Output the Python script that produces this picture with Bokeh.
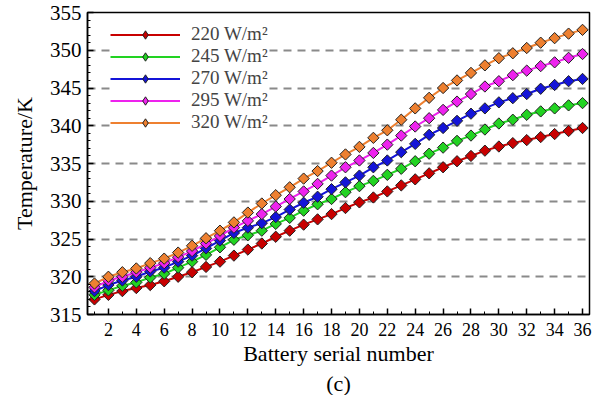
import math
from bokeh.plotting import figure
from bokeh.models import (Legend, LegendItem, SingleIntervalTicker, FixedTicker,
                          Range1d, Title, ColumnDataSource)
from bokeh.embed import file_html
from bokeh.resources import INLINE

serial = list(range(1, 37))
labels = ["220 W/m²", "245 W/m²", "270 W/m²", "295 W/m²", "320 W/m²"]
colors = ["#c80000", "#22d322", "#1414d8", "#ee22ee", "#ee8030"]

t220 = [317.0, 317.6, 318.1, 318.5, 318.9, 319.4, 320.0, 320.6, 321.3, 322.0,
        322.8, 323.6, 324.4, 325.3, 326.1, 326.9, 327.6, 328.3, 329.1, 329.85,
        330.5, 331.3, 332.1, 332.9, 333.7, 334.5, 335.3, 336.0, 336.7, 337.25,
        337.7, 338.1, 338.5, 338.9, 339.3, 339.7]
t245 = [317.6, 318.2, 318.8, 319.25, 319.9, 320.4, 321.2, 322.0, 322.9, 323.9,
        324.9, 325.5, 326.1, 327.0, 327.8, 328.75, 329.6, 330.3, 331.2, 332.0,
        332.7, 333.5, 334.3, 335.3, 336.3, 337.1, 338.0, 338.7, 339.5, 340.3,
        340.8, 341.45, 341.9, 342.3, 342.7, 343.0]
t270 = [318.1, 318.9, 319.5, 320.0, 320.7, 321.2, 322.0, 322.8, 323.75, 324.8,
        325.8, 326.5, 327.1, 327.9, 328.9, 329.8, 330.6, 331.6, 332.5, 333.4,
        334.5, 335.4, 336.5, 337.6, 338.8, 339.7, 340.65, 341.6, 342.3, 343.1,
        343.65, 344.2, 344.9, 345.4, 345.9, 346.2]
t295 = [318.6, 319.5, 320.0, 320.6, 321.2, 321.8, 322.6, 323.4, 324.4, 325.4,
        326.5, 327.4, 328.3, 329.3, 330.3, 331.3, 332.3, 333.4, 334.5, 335.4,
        336.4, 337.5, 338.7, 339.9, 341.0, 342.1, 343.2, 344.2, 345.2, 345.9,
        346.7, 347.3, 347.9, 348.4, 349.0, 349.5]
t320 = [319.1, 320.0, 320.6, 321.1, 321.8, 322.4, 323.2, 324.1, 325.1, 326.1,
        327.2, 328.5, 329.7, 330.8, 331.85, 333.0, 334.0, 335.1, 336.2, 337.2,
        338.4, 339.4, 340.8, 342.3, 343.7, 345.0, 346.0, 347.0, 348.0, 348.95,
        349.6, 350.3, 351.0, 351.6, 352.2, 352.7]
series = [t220, t245, t270, t295, t320]

x_ticks_interval = 2
y_grid_values = [320, 325, 330, 335, 340, 345, 350]

FONT = "Liberation Serif"

p = figure(width=600, height=395, output_backend="svg", toolbar_location=None,
           x_range=Range1d(0.5, 36.5), y_range=Range1d(315, 355),
           min_border_left=87, min_border_right=11, min_border_top=12,
           min_border_bottom=60)
p.background_fill_color = "white"
p.border_fill_color = "white"
p.outline_line_color = "black"
p.outline_line_width = 1.5

# axes
p.xaxis.ticker = SingleIntervalTicker(interval=x_ticks_interval, num_minor_ticks=2)
p.yaxis.ticker = SingleIntervalTicker(interval=5, num_minor_ticks=5)
for ax in (p.xaxis[0], p.yaxis[0]):
    ax.axis_line_color = "black"
    ax.axis_line_width = 1.5
    ax.major_tick_in = 6
    ax.major_tick_out = 0
    ax.minor_tick_in = 3
    ax.minor_tick_out = 0
    ax.major_tick_line_color = "black"
    ax.major_tick_line_width = 1.5
    ax.minor_tick_line_color = "black"
    ax.minor_tick_line_width = 1
    ax.major_label_text_font = FONT
    ax.major_label_text_color = "black"
    ax.axis_label_text_font = FONT
    ax.axis_label_text_font_style = "normal"
    ax.axis_label_text_color = "black"
p.xaxis.major_label_text_font_size = "18px"
p.yaxis.major_label_text_font_size = "21px"
p.xaxis.axis_label = "Battery serial number"
p.yaxis.axis_label = "Temperature/K"
p.xaxis.axis_label_text_font_size = "22px"
p.yaxis.axis_label_text_font_size = "22px"
p.xaxis.major_label_standoff = 8
p.yaxis.major_label_standoff = 6
p.xaxis.axis_label_standoff = 2
p.yaxis.axis_label_standoff = 10

# grid
p.xgrid.visible = False
p.ygrid.ticker = FixedTicker(ticks=y_grid_values)
p.ygrid.grid_line_color = "#8a8a8a"
p.ygrid.grid_line_width = 2
p.ygrid.grid_line_dash = "8 6"

items = []
for vals, col, lab in zip(series, colors, labels):
    src = ColumnDataSource(data=dict(x=serial, y=vals))
    ln = p.line("x", "y", source=src, line_color=col, line_width=2)
    # diamond marker (used by the legend); covered by the rotated squares below
    dm = p.scatter("x", "y", source=src, marker="diamond", size=9,
                   fill_color=col, line_color="#222222", line_width=1)
    p.scatter("x", "y", source=src, marker="square", angle=math.pi / 4, size=8,
              fill_color=col, line_color="#222222", line_width=1)
    items.append(LegendItem(label=lab, renderers=[ln, dm]))

legend = Legend(items=items, location=(23, 181), background_fill_color="white",
                background_fill_alpha=1.0, border_line_color=None,
                label_text_font=FONT, label_text_font_size="19px",
                label_text_line_height=1.0,
                glyph_width=70, glyph_height=21, label_height=20,
                label_standoff=11, spacing=0, padding=2, margin=0)
p.add_layout(legend, "center")

p.add_layout(Title(text="(c)", align="center", text_font=FONT,
                   text_font_size="22px", text_font_style="normal",
                   text_color="black", standoff=0, offset=0), "below")

open("out.html", "w").write(file_html(p, INLINE))
